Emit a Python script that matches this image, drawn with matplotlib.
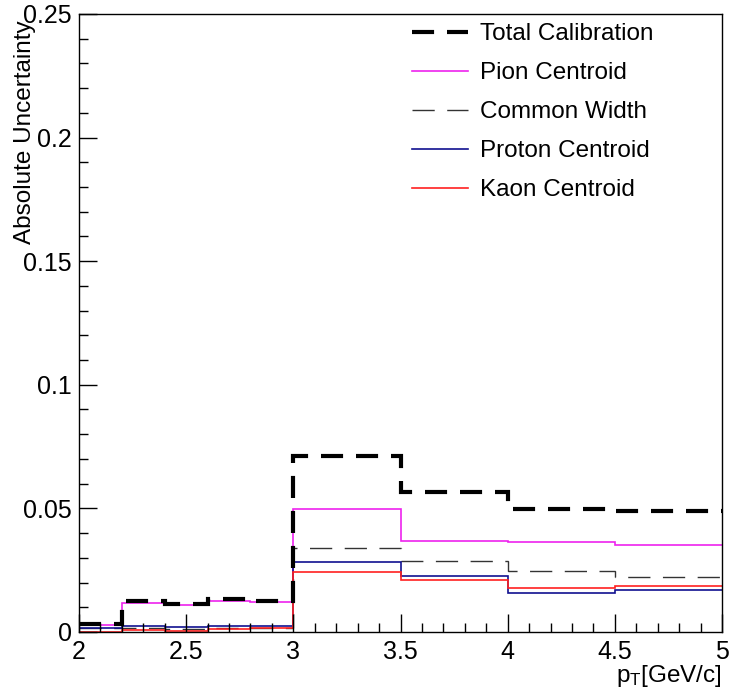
import numpy as np
import matplotlib
matplotlib.use("Agg")
import matplotlib.pyplot as plt
from matplotlib.ticker import MultipleLocator

plt.rcParams['font.family'] = ['Liberation Sans', 'DejaVu Sans']
plt.rcParams['mathtext.default'] = 'regular'

# bin edges in pT (GeV/c)
edges = [2.0, 2.2, 2.4, 2.6, 2.8, 3.0, 3.5, 4.0, 4.5, 5.0]

# uncertainties per bin
total = [0.0032, 0.0125, 0.0113, 0.0132, 0.0125, 0.0712, 0.0566, 0.0498, 0.0488]
pion = [0.0028, 0.0119, 0.0110, 0.0125, 0.0123, 0.0499, 0.0369, 0.0363, 0.0353]
width = [0.0018, 0.0016, 0.0014, 0.0018, 0.0016, 0.0341, 0.0286, 0.0247, 0.0224]
proton = [0.0017, 0.0023, 0.0019, 0.0026, 0.0023, 0.0284, 0.0228, 0.0158, 0.0171]
kaon = [0.0001, 0.0008, 0.0004, 0.0012, 0.0015, 0.0241, 0.0210, 0.0179, 0.0185]

fig = plt.figure(figsize=(7.33, 6.96), dpi=100)
ax = fig.add_axes([0.1078, 0.092, 0.8772, 0.888])

ax.stairs(total, edges, baseline=None, color='black', lw=3, linestyle=(0, (5.3, 3.1)),
          label='Total Calibration', zorder=5)
ax.stairs(pion, edges, baseline=None, color='#ee22ee', lw=1.2, label='Pion Centroid')
ax.stairs(width, edges, baseline=None, color='#333333', lw=1.0, linestyle=(0, (16, 9)),
          label='Common Width')
ax.stairs(proton, edges, baseline=None, color='#101090', lw=1.2, label='Proton Centroid')
ax.stairs(kaon, edges, baseline=None, color='#ff2020', lw=1.2, label='Kaon Centroid')

ax.set_xlim(2, 5)
ax.set_ylim(0, 0.25)

ax.xaxis.set_minor_locator(MultipleLocator(0.1))
ax.yaxis.set_minor_locator(MultipleLocator(0.01))
ax.set_yticks([0, 0.05, 0.1, 0.15, 0.2, 0.25])
ax.set_yticklabels(['0', '0.05', '0.1', '0.15', '0.2', '0.25'])
ax.set_xticks([2, 2.5, 3, 3.5, 4, 4.5, 5])
ax.set_xticklabels(['2', '2.5', '3', '3.5', '4', '4.5', '5'])

ax.tick_params(which='both', direction='in', labelsize=18, top=False, right=False)
ax.tick_params(which='major', length=13, width=1)
ax.tick_params(which='minor', length=6.5, width=1)
ax.tick_params(axis='y', pad=5)
ax.tick_params(axis='x', pad=6)

for s in ax.spines.values():
    s.set_linewidth(1)

ax.set_ylabel('Absolute Uncertainty', fontsize=17.5, loc='top')
ax.yaxis.set_label_coords(-0.067, 0.99)
ax.set_xlabel(r'$p_{T}$[GeV/c]', fontsize=17.5, loc='right')
ax.xaxis.set_label_coords(1.0, -0.05)

ax.legend(loc='upper left', bbox_to_anchor=(0.518, 0.985), frameon=False, fontsize=17.5,
          handlelength=2.3, handletextpad=0.5, labelspacing=0.7, borderaxespad=0,
          borderpad=0)

fig.savefig('out.png', dpi=100)
